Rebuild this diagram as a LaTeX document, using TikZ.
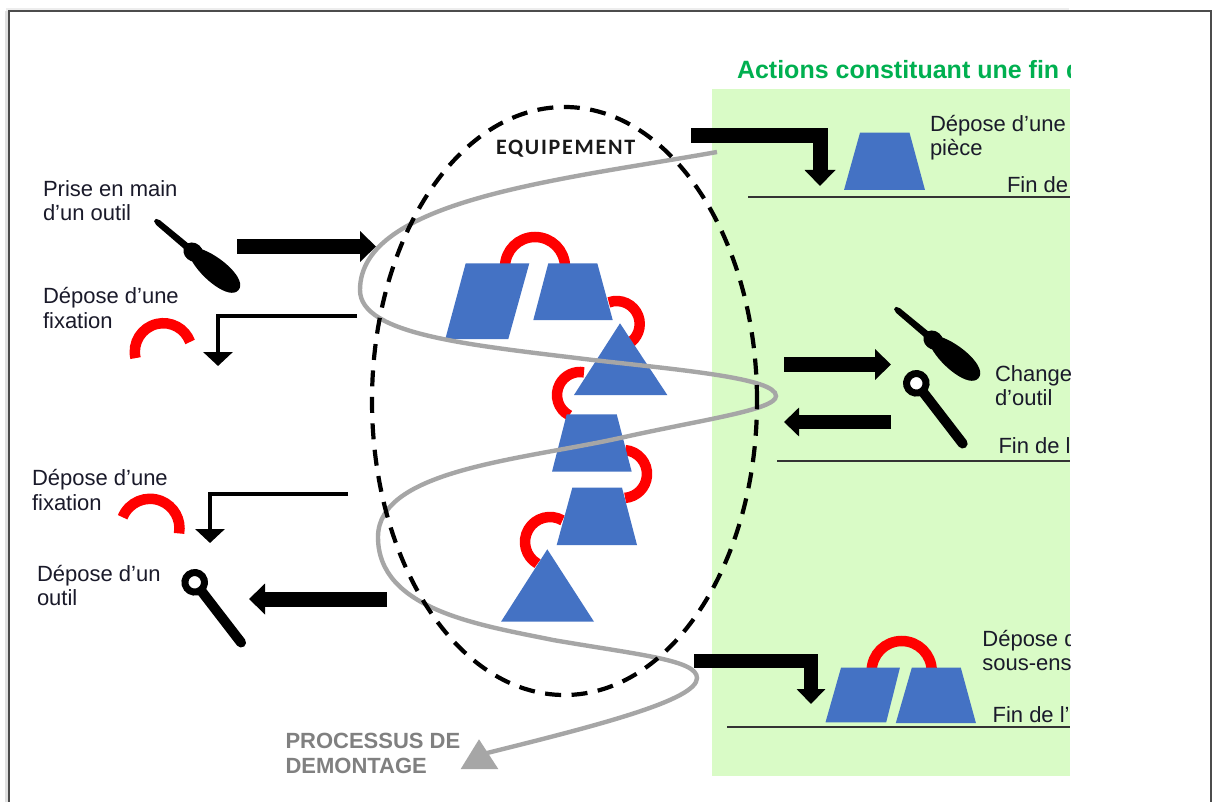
\documentclass[tikz,border=0pt]{standalone}
\usepackage{fontspec}
\setmainfont{Liberation Sans}
\newfontfamily\carl[LetterSpace=8]{Carlito}
\usetikzlibrary{arrows.meta,shapes.geometric}
\definecolor{pgreen}{HTML}{D9FBC6}
\definecolor{pblue}{HTML}{4472C4}
\definecolor{pgrey}{HTML}{A6A6A6}
\definecolor{tgreen}{HTML}{00B050}
\definecolor{tdark}{HTML}{1A1A2A}
\tikzset{
  lbl/.style={anchor=base west,inner sep=0pt,outer sep=0pt,text=tdark,font=\fontsize{22}{24.5}\selectfont},
  head/.style={anchor=base west,inner sep=0pt,outer sep=0pt},
  part/.style={fill=pblue,draw=none},
  fixring/.style={draw=red,line width=10.5pt,line cap=butt},
  bigarrow/.style={line width=15pt,-{Triangle[width=30pt,length=16pt,sep=0pt]}},
  midarrow/.style={line width=13.5pt,-{Triangle[width=28pt,length=15pt,sep=0pt]}},
  thinarrow/.style={line width=4.8pt,-{Triangle[width=29pt,length=14pt,sep=0pt]}},
  finline/.style={line width=1.3pt,draw=black!80},
  driver/.pic={
    \fill (0,-1.5) -- (4,-3) -- (46,-3.5) -- (46,3.5) -- (4,3) -- (0,1.5) -- cycle;
    \fill (50,0) ellipse[x radius=10.5,y radius=9];
    \fill (53,-7) .. controls (72,-15) and (109,-14) .. (109,0) .. controls (109,14) and (72,15) .. (53,7) -- cycle;
  },
  spanner/.pic={
    \draw[line width=10pt,line cap=round] (9,0) -- (76,0);
    \draw[line width=7pt,fill=white] (0,0) circle[radius=9.8];
  },
}
\begin{document}
\begin{tikzpicture}[x=1pt,y=-1pt]
\useasboundingbox (0,0) rectangle (1217,802);
\fill[white] (0,0) rectangle (1217,802);
% page shadow and frame
\fill[black!7] (6,8) rectangle (1069,11);
\fill[black!12] (5,11) rectangle (8.4,802);
\draw[line width=1.1pt,draw=black!70] (9,812) -- (9,11) -- (1211,11) -- (1211,812);
% green panel
\fill[pgreen] (712,89) rectangle (1070,776);
% coordinates of connectors
\coordinate (a1s) at (237,246.5); \coordinate (a1e) at (376,246.5);
\coordinate (a2s) at (357,316); \coordinate (a2c) at (218,316); \coordinate (a2e) at (218,366);
\coordinate (a3s) at (348,494); \coordinate (a3c) at (210,494); \coordinate (a3e) at (210,543);
\coordinate (a4s) at (387,599); \coordinate (a4e) at (249,599);
\coordinate (a5s) at (691,136); \coordinate (a5c) at (820,136); \coordinate (a5e) at (820,186);
\coordinate (a6s) at (784,364.5); \coordinate (a6e) at (891,364.5);
\coordinate (a7s) at (891,422); \coordinate (a7e) at (784,422);
\coordinate (a8s) at (694,661); \coordinate (a8c) at (811,661); \coordinate (a8e) at (811,704);
% fin lines
\coordinate (f1s) at (748,197); \coordinate (f1e) at (1070,197);
\coordinate (f2s) at (777,461); \coordinate (f2e) at (1070,461);
\coordinate (f3s) at (727,727); \coordinate (f3e) at (1070,727);
\draw[finline] (f1s) -- (f1e);
\draw[finline] (f2s) -- (f2e);
\draw[finline] (f3s) -- (f3e);
% red fixations
\draw[fixring] (535,267) ++(180:30) arc[start angle=180,end angle=360,radius=30];
\draw[fixring] (616.7,324) ++(-110:23) arc[start angle=-110,end angle=60,radius=23];
\draw[fixring] (580,395) ++(118:23) arc[start angle=118,end angle=280,radius=23];
\draw[fixring] (623,474) ++(-85:24) arc[start angle=-85,end angle=85,radius=24];
\draw[fixring] (550,542) ++(120:25) arc[start angle=120,end angle=300,radius=25];
\draw[fixring] (901.7,671) ++(180:30) arc[start angle=180,end angle=360,radius=30];
\draw[fixring] (163.3,351.7) ++(167:28.5) arc[start angle=167,end angle=340,radius=28.5];
\draw[fixring] (150,528.3) ++(202:29.5) arc[start angle=202,end angle=370,radius=29.5];
% blue parts
\fill[part] (465.7,263.3) -- (529.3,263.3) -- (508.3,339) -- (445.3,339) -- cycle;
\fill[part] (548.3,263.3) -- (597.3,263.3) -- (612.7,320) -- (533.3,320) -- cycle;
\fill[part] (620,323.3) -- (667.3,395) -- (574,395) -- cycle;
\fill[part] (566.7,414.3) -- (616.7,414.3) -- (631.7,471.7) -- (552,471.7) -- cycle;
\fill[part] (572.3,487.7) -- (622,487.7) -- (637,545) -- (556.7,545) -- cycle;
\fill[part] (547.3,549.3) -- (594,621.7) -- (501,621.7) -- cycle;
\fill[part] (860,132.7) -- (909.5,132.7) -- (925,190) -- (844,190) -- cycle;
\fill[part] (841,667.7) -- (899.9,667.7) -- (886.2,722.3) -- (825.5,722.3) -- cycle;
\fill[part] (911.8,667.7) -- (960.8,667.7) -- (975.9,723) -- (895.8,723) -- cycle;
% process curve
\fill[pgrey] (479,739.3) -- (498.3,769) -- (460.7,769) -- cycle;
\draw[pgrey,line width=4.4pt]
  (717,152) .. controls (560,180) and (360,200) .. (360,290)
  .. controls (360,335) and (470,345) .. (593,360)
  .. controls (680,370) and (776,378) .. (776,396)
  .. controls (776,410) and (700,420) .. (620,438)
  .. controls (520,460) and (378,470) .. (378,537)
  .. controls (378,610) and (480,625) .. (553,640)
  .. controls (640,655) and (697,660) .. (697,678)
  .. controls (697,700) and (600,725) .. (479,755);
% equipment boundary
\node[ellipse,draw=black,line width=4.2pt,dash pattern=on 16pt off 10.5pt,
  minimum width=385pt,minimum height=588pt,inner sep=0pt] (equip) at (564.5,401) {};
% connectors
\draw[bigarrow] (a1s) -- (a1e);
\draw[thinarrow] (a2s) -- (a2c) -- (a2e);
\draw[thinarrow] (a3s) -- (a3c) -- (a3e);
\draw[bigarrow] (a4s) -- (a4e);
\draw[bigarrow] (a5s) -- (a5c) -- (a5e);
\draw[bigarrow] (a6s) -- (a6e);
\draw[midarrow] (a7s) -- (a7e);
\draw[midarrow] (a8s) -- (a8c) -- (a8e);
% tools
\pic[rotate=-40] (sd1) at (155,220) {driver};
\pic[rotate=-40] (sd2) at (895,308) {driver};
\pic[rotate=-52.4] (sp1) at (194.7,582.3) {spanner};
\pic[rotate=-52.4] (sp2) at (916.3,383.3) {spanner};
% left texts (a node's base is that of its last line)
\node[lbl,align=left] (t1) at (43,221) {Prise en main\\d’un outil};
\node[lbl,align=left] (t2) at (43,328) {Dépose d’une\\fixation};
\node[lbl,align=left] (t3) at (32,510) {Dépose d’une\\fixation};
\node[lbl,align=left] (t4) at (37,605.7) {Dépose d’un\\outil};
\node[head,align=left,text=black!50,font=\bfseries\fontsize{22}{25}\selectfont] (t5) at (285.5,773) {PROCESSUS DE\\DEMONTAGE};
\node[head,text=black!90,font=\carl\bfseries\fontsize{22}{25}\selectfont] (t6) at (496,155) {EQUIPEMENT};
% right texts, cut by the panel edge
\begin{scope}
\clip (700,0) rectangle (1070,802);
\node[head,text=tgreen,font=\bfseries\fontsize{25}{28}\selectfont] (t7) at (737,79) {Actions constituant une fin d};
\node[lbl,align=left] (t8) at (930,155.7) {Dépose d’une\\pièce};
\node[lbl] (t9) at (1007,192.7) {Fin de};
\node[lbl,align=left] (t10) at (995,405.7) {Change\\d’outil};
\node[lbl] (t11) at (998.5,453) {Fin de l};
\node[lbl,align=left] (t12) at (982.4,670.7) {Dépose d\\sous-ens};
\node[lbl] (t13) at (992.6,722.7) {Fin de l’};
\end{scope}
\end{tikzpicture}
\end{document}
